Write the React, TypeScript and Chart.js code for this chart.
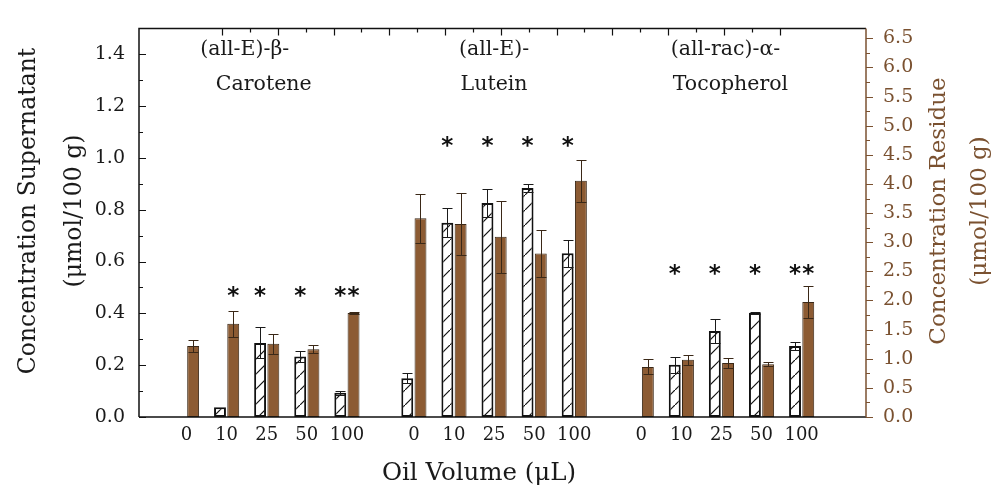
import React, { useEffect, useRef } from 'react';
import { Chart, registerables } from 'chart.js';

Chart.register(...registerables);

// ---------- data ----------
const oilVolumes = ['0', '10', '25', '50', '100'];
const compoundTitles = [
  ['(all-E)-β-', 'Carotene'],
  ['(all-E)-', 'Lutein'],
  ['(all-rac)-α-', 'Tocopherol'],
];

// Concentration supernatant (µmol/100 g) – hatched bars, left axis
const supCarotene = [null, 0.038, 0.286, 0.234, 0.094];
const supCaroteneErr = [0, 0, 0.06, 0.02, 0.008];
const supLutein = [0.15, 0.75, 0.826, 0.884, 0.632];
const supLuteinErr = [0.018, 0.056, 0.055, 0.016, 0.052];
const supTocopherol = [null, 0.202, 0.332, 0.402, 0.274];
const supTocopherolErr = [0, 0.031, 0.047, 0.003, 0.016];

// Concentration residue (µmol/100 g) – brown bars, right axis
const resCarotene = [1.22, 1.6, 1.257, 1.163, 1.786];
const resCaroteneErr = [0.11, 0.22, 0.17, 0.066, 0.02];
const resLutein = [3.41, 3.313, 3.093, 2.806, 4.057];
const resLuteinErr = [0.42, 0.54, 0.62, 0.4, 0.36];
const resTocopherol = [0.86, 0.981, 0.926, 0.904, 1.973];
const resTocopherolErr = [0.127, 0.09, 0.088, 0.033, 0.276];

// significance markers (*)
const sigSupCarotene = [false, false, true, true, true];
const sigResCarotene = [false, true, false, false, true];
const sigSupLutein = [false, true, true, true, true];
const sigResLutein = [false, false, false, false, false];
const sigSupTocopherol = [false, true, true, true, true];
const sigResTocopherol = [false, false, false, false, true];
// level (left-axis units) at which the asterisks of each compound are placed
const starLevels = [0.486, 1.062, 0.568];

// ---------- layout constants ----------
const GROUP_STEP = 5.67;
const xPos = (g: number, i: number) => g * GROUP_STEP + i;
// horizontal offset (px) of each title line from the group centre
const titleOffsets = [[-22, -3], [0, 0], [4, 9]];

const supValues = [...supCarotene, ...supLutein, ...supTocopherol];
const supErrors = [...supCaroteneErr, ...supLuteinErr, ...supTocopherolErr];
const resValues = [...resCarotene, ...resLutein, ...resTocopherol];
const resErrors = [...resCaroteneErr, ...resLuteinErr, ...resTocopherolErr];
const supSig = [...sigSupCarotene, ...sigSupLutein, ...sigSupTocopherol];
const resSig = [...sigResCarotene, ...sigResLutein, ...sigResTocopherol];
const positions: number[] = [];
compoundTitles.forEach((_, g) => oilVolumes.forEach((_, i) => positions.push(xPos(g, i))));

const BROWN = '#8c5b33';
const BROWN_DARK = '#3a2817';
const AXIS_BROWN = '#7a5130';
const SERIF = "'DejaVu Serif', serif";

function makeHatch(): CanvasPattern | string {
  const c = document.createElement('canvas');
  const s = 15;
  c.width = s;
  c.height = s;
  const g = c.getContext('2d');
  if (!g) return '#fff';
  g.fillStyle = '#fff';
  g.fillRect(0, 0, s, s);
  g.strokeStyle = '#111';
  g.lineWidth = 1.2;
  g.beginPath();
  g.moveTo(-2, s + 2);
  g.lineTo(s + 2, -2);
  g.stroke();
  const p = g.createPattern(c, 'repeat');
  return p || '#fff';
}

const decorPlugin = {
  id: 'decor',
  afterDatasetsDraw(chart: any) {
    const ctx: CanvasRenderingContext2D = chart.ctx;
    const yL = chart.scales.y;
    const yR = chart.scales.y2;
    const sets = [
      { meta: chart.getDatasetMeta(0), vals: supValues, errs: supErrors, scale: yL, color: '#1a1a1a' },
      { meta: chart.getDatasetMeta(1), vals: resValues, errs: resErrors, scale: yR, color: BROWN_DARK },
    ];
    ctx.save();
    ctx.lineWidth = 1;
    sets.forEach((s) => {
      s.meta.data.forEach((bar: any, k: number) => {
        const v = s.vals[k];
        const e = s.errs[k];
        if (v == null || !e) return;
        const x = Math.round(bar.x) + 0.5;
        const yt = Math.round(s.scale.getPixelForValue(v + e)) + 0.5;
        const yb = Math.round(s.scale.getPixelForValue(v - e)) + 0.5;
        ctx.strokeStyle = s.color;
        ctx.beginPath();
        ctx.moveTo(x, yt);
        ctx.lineTo(x, yb);
        ctx.moveTo(x - 5, yt);
        ctx.lineTo(x + 5, yt);
        ctx.moveTo(x - 5, yb);
        ctx.lineTo(x + 5, yb);
        ctx.stroke();
      });
    });
    // asterisks
    ctx.fillStyle = '#111';
    ctx.font = "bold 23px 'DejaVu Sans', sans-serif";
    ctx.textAlign = 'center';
    ctx.textBaseline = 'alphabetic';
    const m = ctx.measureText('*');
    const glyphMid = (m.actualBoundingBoxAscent - m.actualBoundingBoxDescent) / 2;
    [
      { meta: chart.getDatasetMeta(0), sig: supSig },
      { meta: chart.getDatasetMeta(1), sig: resSig },
    ].forEach((s) => {
      s.meta.data.forEach((bar: any, k: number) => {
        if (!s.sig[k]) return;
        const g = Math.floor(k / oilVolumes.length);
        const yc = yL.getPixelForValue(starLevels[g]);
        ctx.fillText('*', bar.x, yc + glyphMid);
      });
    });
    ctx.restore();
  },
  afterDraw(chart: any) {
    const ctx: CanvasRenderingContext2D = chart.ctx;
    const { left, right, top, bottom } = chart.chartArea;
    const yL = chart.scales.y;
    const yR = chart.scales.y2;
    const xT = chart.scales.xTop;
    const xB = chart.scales.x;
    ctx.save();
    ctx.lineWidth = 1.5;
    // frame
    ctx.strokeStyle = '#111';
    ctx.beginPath();
    ctx.moveTo(left, bottom);
    ctx.lineTo(left, top);
    ctx.lineTo(right, top);
    ctx.moveTo(left, bottom);
    ctx.lineTo(right, bottom);
    ctx.stroke();
    // left ticks (inward)
    ctx.lineWidth = 1.2;
    ctx.beginPath();
    for (let i = 0; i <= 14; i++) {
      const v = i / 10;
      const py = Math.round(yL.getPixelForValue(v)) + 0.5;
      const len = i % 2 === 0 ? 7 : 4;
      ctx.moveTo(left, py);
      ctx.lineTo(left + len, py);
    }
    // top ticks (inward)
    for (let v = Math.ceil(xT.min * 2) / 2; v <= xT.max; v += 0.5) {
      const px = Math.round(xT.getPixelForValue(v)) + 0.5;
      const len = Math.abs(v - Math.round(v)) < 1e-6 ? 7 : 4;
      ctx.moveTo(px, top);
      ctx.lineTo(px, top + len);
    }
    ctx.stroke();
    // right axis (brown, outward)
    ctx.strokeStyle = AXIS_BROWN;
    ctx.lineWidth = 1.5;
    ctx.beginPath();
    ctx.moveTo(right, top);
    ctx.lineTo(right, bottom);
    ctx.stroke();
    ctx.lineWidth = 1.2;
    ctx.beginPath();
    for (let i = 0; i <= 26; i++) {
      const v = i / 4;
      const py = Math.round(yR.getPixelForValue(v)) + 0.5;
      const len = i % 2 === 0 ? 7 : 4;
      ctx.moveTo(right, py);
      ctx.lineTo(right + len, py);
    }
    ctx.stroke();

    // compound titles
    ctx.fillStyle = '#1a1a1a';
    ctx.font = `20.5px ${SERIF}`;
    ctx.textAlign = 'center';
    ctx.textBaseline = 'middle';
    compoundTitles.forEach((lines, g) => {
      const cx = xB.getPixelForValue(xPos(g, 2));
      ctx.fillText(lines[0], cx + titleOffsets[g][0], 50);
      ctx.fillText(lines[1], cx + titleOffsets[g][1], 85);
    });

    // axis titles
    ctx.textBaseline = 'alphabetic';
    ctx.font = `23.5px ${SERIF}`;
    ctx.save();
    ctx.translate(0, 211);
    ctx.rotate(-Math.PI / 2);
    ctx.fillText('Concentration Supernatant', 0, 35);
    ctx.fillText('(μmol/100 g)', 0, 81);
    ctx.restore();

    ctx.fillStyle = AXIS_BROWN;
    ctx.font = `23px ${SERIF}`;
    ctx.save();
    ctx.translate(0, 211);
    ctx.rotate(-Math.PI / 2);
    ctx.fillText('Concentration Residue', 0, 945);
    ctx.fillText('(μmol/100 g)', 0, 986);
    ctx.restore();

    ctx.fillStyle = '#1a1a1a';
    ctx.font = `24.5px ${SERIF}`;
    ctx.fillText('Oil Volume (μL)', 479, 480);
    ctx.restore();
  },
};

export default function App() {
  const ref = useRef<HTMLCanvasElement | null>(null);
  useEffect(() => {
    if (!ref.current) return;
    const hatch = makeHatch();
    const chart = new Chart(ref.current, {
      type: 'bar',
      data: {
        datasets: [
          {
            label: 'Supernatant',
            data: positions.map((x, k) => ({ x, y: supValues[k] })) as any,
            yAxisID: 'y',
            backgroundColor: hatch as any,
            borderColor: '#111',
            borderWidth: 2,
            borderSkipped: false,
          },
          {
            label: 'Residue',
            data: positions.map((x, k) => ({ x, y: resValues[k] })) as any,
            yAxisID: 'y2',
            backgroundColor: BROWN,
            borderColor: BROWN_DARK,
            borderWidth: 1,
            borderSkipped: false,
          },
        ],
      },
      options: {
        animation: false,
        responsive: false,
        devicePixelRatio: 1,
        categoryPercentage: 0.66,
        barPercentage: 0.9,
        layout: { padding: { top: 14, left: 0, right: 0, bottom: 0 } },
        plugins: { legend: { display: false }, tooltip: { enabled: false }, title: { display: false } },
        scales: {
          x: {
            type: 'linear',
            position: 'bottom',
            min: -1.185,
            max: 16.945,
            offset: false,
            grid: { display: false, drawTicks: false },
            border: { display: false },
            afterBuildTicks: (scale: any) => {
              scale.ticks = positions.map((v) => ({ value: v }));
            },
            afterFit: (scale: any) => {
              scale.height = 75;
            },
            ticks: {
              autoSkip: false,
              maxRotation: 0,
              padding: 8,
              color: '#1a1a1a',
              font: { family: SERIF, size: 18 },
              callback: (_v: any, i: number) => oilVolumes[i % oilVolumes.length],
            },
          },
          xTop: {
            type: 'linear',
            position: 'top',
            display: false,
            min: -0.4036,
            max: 10.463,
          },
          y: {
            type: 'linear',
            position: 'left',
            min: 0,
            max: 1.5,
            grid: { display: false, drawTicks: false },
            border: { display: false },
            afterFit: (scale: any) => {
              scale.width = 139;
            },
            ticks: {
              stepSize: 0.2,
              includeBounds: false,
              padding: 14,
              color: '#1a1a1a',
              font: { family: SERIF, size: 19 },
              callback: (v: any) => Number(v).toFixed(1),
            },
          },
          y2: {
            type: 'linear',
            position: 'right',
            min: 0,
            max: 6.67,
            grid: { display: false, drawTicks: false },
            border: { display: false },
            afterFit: (scale: any) => {
              scale.width = 137;
            },
            ticks: {
              stepSize: 0.5,
              includeBounds: false,
              padding: 17,
              color: AXIS_BROWN,
              font: { family: SERIF, size: 19 },
              callback: (v: any) => Number(v).toFixed(1),
            },
          },
        },
      } as any,
      plugins: [decorPlugin],
    });
    return () => chart.destroy();
  }, []);
  return (
    <div style={{ position: 'absolute', left: 0, top: 0, width: 1003, height: 492, background: '#fff' }}>
      <canvas ref={ref} width={1003} height={492} />
    </div>
  );
}
